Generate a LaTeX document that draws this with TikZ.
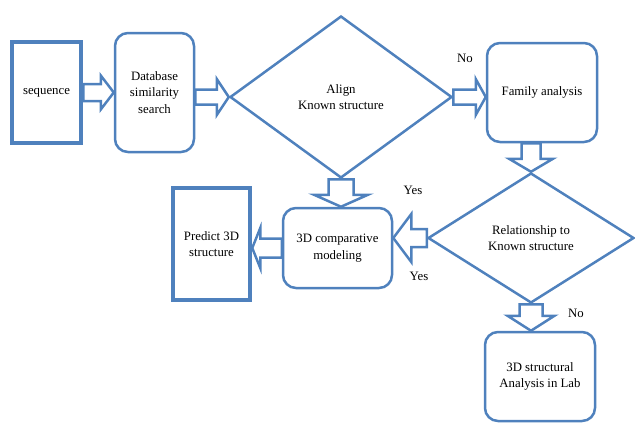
\documentclass[tikz,border=0pt]{standalone}
\usepackage{fontspec}
\setmainfont{Liberation Serif}
\usetikzlibrary{shapes.geometric,calc}
\definecolor{flowblue}{HTML}{4F81BD}

% block arrow: from, to, shaft half width, head half width, head length
\newcommand{\blockarrow}[5]{%
  \coordinate (ba-s) at (#1);
  \coordinate (ba-e) at (#2);
  \coordinate (ba-h) at ($(ba-e)!#5pt!(ba-s)$);
  \draw[arrowline] ($(ba-s)!#3pt!90:(ba-e)$) -- ($(ba-h)!#3pt!90:(ba-e)$)
    -- ($(ba-h)!#4pt!90:(ba-e)$) -- (ba-e) -- ($(ba-h)!#4pt!-90:(ba-e)$)
    -- ($(ba-h)!#3pt!-90:(ba-e)$) -- ($(ba-s)!#3pt!-90:(ba-e)$) -- cycle;
}

\tikzset{
  flowbox/.style={draw=flowblue,line width=4.5pt,inner sep=0pt,align=center},
  roundbox/.style={draw=flowblue,line width=2.5pt,rounded corners=13pt,inner sep=0pt,align=center},
  decision/.style={diamond,draw=flowblue,line width=2.5pt,inner sep=0pt,align=center},
  arrowline/.style={draw=flowblue,line width=2.5pt},
  answer/.style={inner sep=0pt}
}

\begin{document}
\begin{tikzpicture}[x=1pt,y=-1pt,font=\fontsize{12.8}{16.5}\selectfont]
  \useasboundingbox (0,0) rectangle (635,423);

  \node[flowbox,minimum width=69pt,minimum height=101pt] (seq) at (46.5,92.5) {sequence};
  \node[roundbox,minimum width=79pt,minimum height=119pt] (db) at (154.5,92.5) {Database\\similarity\\search};
  \node[decision,minimum width=222pt,minimum height=162pt] (align) at (341,97) {Align\\Known structure};
  \node[roundbox,minimum width=110pt,minimum height=99pt] (fam) at (542,92.5) {Family analysis};
  \node[decision,minimum width=206pt,minimum height=130pt] (rel) at (531,238) {Relationship to\\Known structure};
  \node[roundbox,minimum width=109pt,minimum height=80pt] (cmp) at (337.5,248) {3D comparative\\modeling};
  \node[flowbox,minimum width=77pt,minimum height=112pt] (pred) at (211.5,244) {Predict 3D\\structure};
  \node[roundbox,minimum width=110pt,minimum height=89pt] (lab) at (540,376.5) {3D structural\\Analysis in Lab};

  \node[answer] (no1) at (465,58) {No};
  \node[answer] (yes1) at (413,190) {Yes};
  \node[answer] (yes2) at (419,276) {Yes};
  \node[answer] (no2) at (576,313) {No};

  \blockarrow{seq.east}{db.west}{8.5}{17}{13}
  \blockarrow{db.east |- align.west}{align.west}{7.5}{18}{12}
  \blockarrow{align.east}{fam.west |- align.east}{7.5}{18}{10}
  \blockarrow{rel.north |- fam.south}{rel.north}{9.5}{22}{13}
  \blockarrow{align.south}{align.south |- cmp.north}{12.5}{27}{12}
  \blockarrow{rel.west}{cmp.east |- rel.west}{9}{24}{18}
  \blockarrow{cmp.west}{pred.east |- cmp.west}{9.5}{20}{8}
  \blockarrow{rel.south}{rel.south |- lab.north}{11.5}{23.5}{15}
\end{tikzpicture}
\end{document}
